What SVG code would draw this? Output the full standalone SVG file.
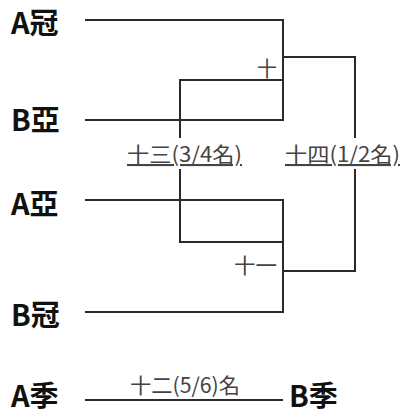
<svg xmlns="http://www.w3.org/2000/svg" width="401" height="419" viewBox="0 0 401 419">
<style>
.team{font-family:"Noto Sans CJK TC","Noto Sans",sans-serif;font-size:29px;font-weight:bold;fill:#111}
.match{font-family:"Noto Sans CJK TC","Noto Sans",sans-serif;font-size:21px;fill:#444}
.u{text-decoration:underline}
.ln{stroke:#2a2a2a;stroke-width:2;fill:none}
</style>
<rect width="401" height="419" fill="#fff"/>
<g id="connectors">
<polyline class="ln" points="85,20 283,20 283,120 85,120"/>
<polyline class="ln" points="85,200 283,200 283,312 85,312"/>
<polyline class="ln" points="283,57 355,57 355,138"/>
<polyline class="ln" points="355,169 355,271 283,271"/>
<polyline class="ln" points="283,80 180,80 180,138"/>
<polyline class="ln" points="180,169 180,242 283,242"/>
<line class="ln" x1="85" y1="400" x2="283" y2="400"/>
</g>
<g id="node-a-champ"><text class="team" x="11" y="34">A冠</text></g>
<g id="node-b-runner"><text class="team" x="11" y="131">B亞</text></g>
<g id="node-a-runner"><text class="team" x="11" y="215">A亞</text></g>
<g id="node-b-champ"><text class="team" x="11" y="326">B冠</text></g>
<g id="node-a-third"><text class="team" x="11" y="407">A季</text></g>
<g id="node-b-third"><text class="team" x="289" y="407">B季</text></g>
<g id="match-10"><text class="match" x="257" y="76" textLength="20" lengthAdjust="spacingAndGlyphs">十</text></g>
<g id="match-11"><text class="match" x="234" y="273" textLength="43" lengthAdjust="spacingAndGlyphs">十一</text></g>
<g id="match-12"><text class="match" x="130" y="393" textLength="110" lengthAdjust="spacingAndGlyphs">十二(5/6)名</text></g>
<g id="match-13"><text class="match u" x="127" y="162" textLength="115" lengthAdjust="spacingAndGlyphs">十三(3/4名)</text></g>
<g id="match-14"><text class="match u" x="285" y="162" textLength="115" lengthAdjust="spacingAndGlyphs">十四(1/2名)</text></g>
</svg>
